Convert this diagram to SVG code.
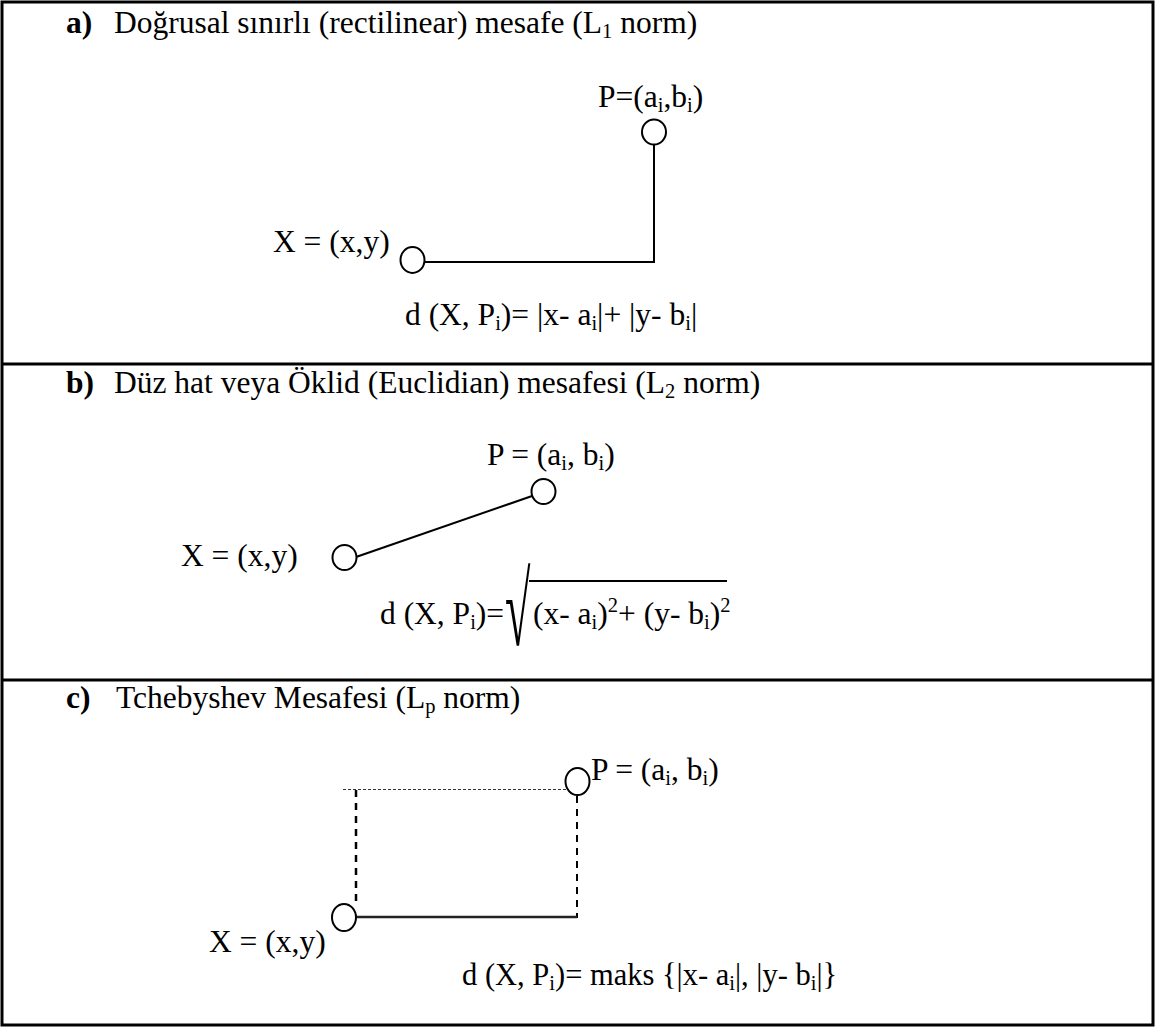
<svg xmlns="http://www.w3.org/2000/svg" width="1155" height="1027" viewBox="0 0 1155 1027">
<style>
text{font-family:"Liberation Serif","Times New Roman",serif;font-size:31.5px;fill:#000}
.b{font-weight:bold}
.s{font-size:20.5px}
.node{fill:#fff;stroke:#000;stroke-width:2}
.conn{stroke:#000;stroke-width:2;fill:none}
.frame{stroke:#000;stroke-width:3;fill:none}
.dot{stroke:#333;stroke-width:1;stroke-dasharray:3 2;fill:none}
.dash{stroke:#000;stroke-width:2.5;stroke-dasharray:7 6;fill:none}
</style>
<rect fill="#fff" width="1155" height="1027"/>
<g id="frame">
<rect class="frame" x="2" y="2" width="1151" height="1023"/>
<line class="frame" x1="2" y1="364" x2="1153" y2="364"/>
<line class="frame" x1="2" y1="680" x2="1153" y2="680"/>
</g>
<g id="titles">
<text x="66" y="33" class="b">a)</text>
<text x="114" y="33">Doğrusal sınırlı (rectilinear) mesafe (L<tspan class="s" dy="5">1</tspan><tspan dy="-5"> norm)</tspan></text>
<text x="66" y="393" class="b">b)</text>
<text x="114" y="393">Düz hat veya Öklid (Euclidian) mesafesi (L<tspan class="s" dy="5">2</tspan><tspan dy="-5"> norm)</tspan></text>
<text x="66" y="708" class="b">c)</text>
<text x="116" y="708">Tchebyshev Mesafesi (L<tspan class="s" dy="5">p</tspan><tspan dy="-5"> norm)</tspan></text>
</g>
<g id="connectors">
<polyline class="conn" points="424,262 654,262 654,144"/>
<line class="conn" x1="356" y1="557" x2="532" y2="496"/>
<line class="dot" x1="343" y1="789.5" x2="566" y2="789.5"/>
<line class="dash" x1="356" y1="790" x2="356" y2="905"/>
<line class="dash" x1="577" y1="796" x2="577" y2="918" style="stroke-width:2"/>
<line class="conn" x1="356" y1="917" x2="577" y2="917" style="stroke-width:2.5;stroke:#222"/>
</g>
<g id="a-P">
<ellipse class="node" cx="654" cy="132" rx="12" ry="12.5"/>
<text x="598" y="107">P=(a<tspan class="s" dy="5">i</tspan><tspan dy="-5">,b</tspan><tspan class="s" dy="5">i</tspan><tspan dy="-5">)</tspan></text>
</g>
<g id="a-X">
<ellipse class="node" cx="412.5" cy="260" rx="12" ry="13"/>
<text x="273" y="252">X = (x,y)</text>
</g>
<g id="a-formula">
<text x="405" y="325">d (X, P<tspan class="s" dy="5">i</tspan><tspan dy="-5">)= |x- a</tspan><tspan class="s" dy="5">i</tspan><tspan dy="-5">|+ |y- b</tspan><tspan class="s" dy="5">i</tspan><tspan dy="-5">|</tspan></text>
</g>
<g id="b-P">
<ellipse class="node" cx="543.5" cy="491.5" rx="12" ry="12.5"/>
<text x="487" y="465">P = (a<tspan class="s" dy="5">i</tspan><tspan dy="-5">, b</tspan><tspan class="s" dy="5">i</tspan><tspan dy="-5">)</tspan></text>
</g>
<g id="b-X">
<ellipse class="node" cx="344.5" cy="557.5" rx="12" ry="12.5"/>
<text x="181" y="566">X = (x,y)</text>
</g>
<g id="b-formula">
<text x="380" y="624">d (X, P<tspan class="s" dy="5">i</tspan><tspan dy="-5">)=</tspan></text>
<text transform="translate(505,645) scale(1.05,2.35)" style="font-size:44px">√</text>
<line x1="529" y1="581" x2="727" y2="581" stroke="#000" stroke-width="2"/>
<text x="533" y="624">(x- a<tspan class="s" dy="5">i</tspan><tspan dy="-5">)</tspan><tspan class="s" dy="-12">2</tspan><tspan dy="12">+ (y- b</tspan><tspan class="s" dy="5">i</tspan><tspan dy="-5">)</tspan><tspan class="s" dy="-12">2</tspan></text>
</g>
<g id="c-P">
<ellipse class="node" cx="577.5" cy="781.5" rx="12" ry="13.5"/>
<text x="591" y="780">P = (a<tspan class="s" dy="5">i</tspan><tspan dy="-5">, b</tspan><tspan class="s" dy="5">i</tspan><tspan dy="-5">)</tspan></text>
</g>
<g id="c-X">
<ellipse class="node" cx="344" cy="917.5" rx="12" ry="13.5"/>
<text x="209" y="952">X = (x,y)</text>
</g>
<g id="c-formula">
<text x="462" y="985" style="font-size:30.5px">d (X, P<tspan class="s" dy="5">i</tspan><tspan dy="-5">)= maks {|x- a</tspan><tspan class="s" dy="5">i</tspan><tspan dy="-5">|, |y- b</tspan><tspan class="s" dy="5">i</tspan><tspan dy="-5">|}</tspan></text>
</g>
</svg>
